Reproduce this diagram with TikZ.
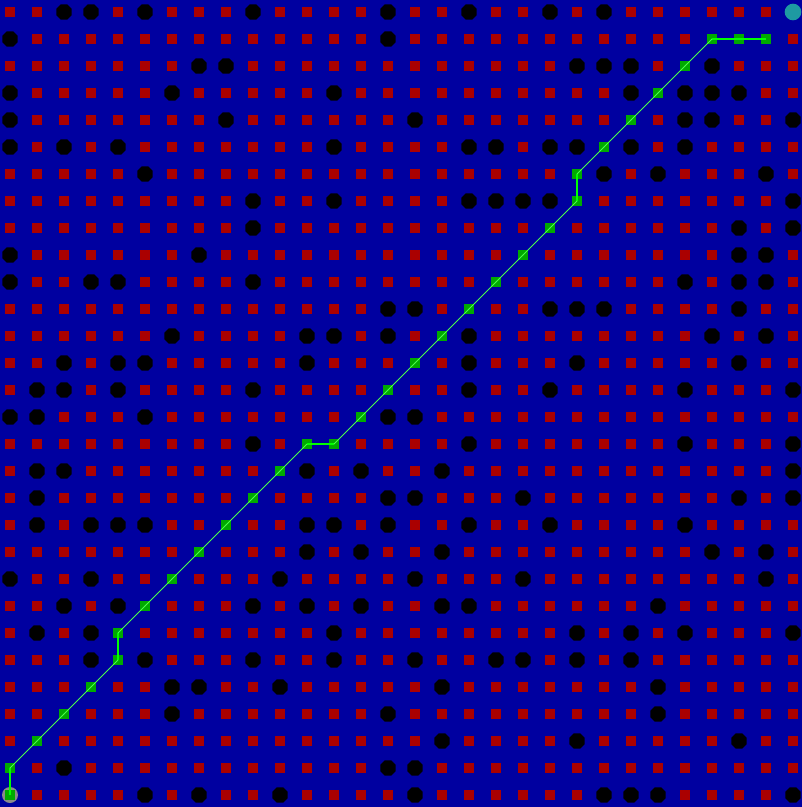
\documentclass[tikz,border=0pt]{standalone}
\usepackage{xcolor}
\usepackage{tikz}
\usetikzlibrary{shapes.geometric}
\definecolor{field}{HTML}{0000A0}
\definecolor{freered}{HTML}{AA0000}
\definecolor{routegreen}{HTML}{00AA00}
\definecolor{linegreen}{HTML}{00FF00}
\definecolor{goalteal}{HTML}{1E9AA2}
\definecolor{startgrey}{HTML}{8A8A8A}

% obstacle cells, col/row (row 0 on top)
\newcommand\wallcells{2/0,3/0,5/0,9/0,14/0,17/0,20/0,22/0,
  0/1,14/1,
  7/2,8/2,21/2,22/2,23/2,26/2,
  0/3,6/3,12/3,23/3,25/3,26/3,27/3,
  0/4,8/4,15/4,25/4,26/4,29/4,
  0/5,2/5,4/5,12/5,17/5,18/5,20/5,21/5,23/5,25/5,
  5/6,22/6,24/6,28/6,
  9/7,12/7,17/7,18/7,19/7,20/7,29/7,
  9/8,27/8,29/8,
  0/9,7/9,27/9,28/9,
  0/10,3/10,4/10,9/10,25/10,27/10,28/10,
  14/11,15/11,20/11,21/11,22/11,27/11,
  6/12,11/12,12/12,14/12,17/12,26/12,28/12,
  2/13,4/13,5/13,11/13,17/13,21/13,27/13,
  1/14,2/14,4/14,9/14,17/14,20/14,25/14,29/14,
  0/15,1/15,5/15,14/15,15/15,
  9/16,17/16,25/16,29/16,
  1/17,2/17,11/17,13/17,16/17,29/17,
  1/18,14/18,15/18,19/18,27/18,29/18,
  1/19,3/19,4/19,5/19,11/19,12/19,14/19,17/19,20/19,25/19,
  11/20,13/20,16/20,26/20,28/20,
  0/21,3/21,10/21,15/21,19/21,28/21,
  2/22,4/22,9/22,11/22,13/22,16/22,17/22,24/22,
  1/23,3/23,12/23,21/23,23/23,25/23,29/23,
  3/24,5/24,9/24,12/24,15/24,18/24,19/24,21/24,23/24,
  6/25,7/25,10/25,16/25,24/25,
  6/26,14/26,24/26,
  16/27,21/27,27/27,
  2/28,14/28,15/28,
  5/29,7/29,10/29,15/29,22/29,23/29,24/29,29/29}
% cells of the found route
\newcommand\routecells{0/29,0/28,1/27,2/26,3/25,4/24,4/23,5/22,6/21,7/20,
  8/19,9/18,10/17,11/16,12/16,13/15,14/14,15/13,16/12,17/11,18/10,19/9,
  20/8,21/7,21/6,22/5,23/4,24/3,25/2,26/1,27/1,28/1}
\foreach \c/\r in \wallcells {\expandafter\gdef\csname isw-\c-\r\endcsname{}}
\foreach \c/\r in \routecells {\expandafter\gdef\csname isr-\c-\r\endcsname{}}

\begin{document}
\begin{tikzpicture}[x=0.75pt,y=-0.75pt,
  free/.style={fill=freered,inner sep=0pt,minimum size=7.5pt},
  wall/.style={regular polygon,regular polygon sides=8,fill=black,inner sep=0pt,minimum size=12.5pt},
  routecell/.style={fill=routegreen,inner sep=0pt,minimum size=8pt},
  startmark/.style={circle,fill=startgrey,inner sep=0pt,minimum size=12pt},
  goalmark/.style={circle,fill=goalteal,inner sep=0pt,minimum size=12.5pt},
  straight/.style={linegreen,line width=2.2pt},
  diag/.style={linegreen!70!white,line width=0.6pt}]
\fill[field] (0,0) rectangle (802,807);
\node[startmark] (start) at (10,795) {};
\node[goalmark] (goal) at (793,12) {};
\foreach \c in {0,...,29}
  \foreach \r in {0,...,29} {
    \ifcsname isw-\c-\r\endcsname
      \node[wall] (g-\c-\r) at ({10+27*\c},{12+27*\r}) {};
    \else\ifcsname isr-\c-\r\endcsname
      \node[routecell] (g-\c-\r) at ({10+27*\c},{12+27*\r}) {};
    \else\ifnum\c\r=290\relax\else
      \node[free] (g-\c-\r) at ({10+27*\c},{12+27*\r}) {};
    \fi\fi\fi
  }
% route: straight steps thick, diagonal steps thin
\foreach \a/\b in {0-29/0-28,4-24/4-23,11-16/12-16,21-7/21-6,26-1/27-1,27-1/28-1}
  \draw[straight] (g-\a.center) -- (g-\b.center);
\foreach \a/\b in {0-28/1-27,1-27/2-26,2-26/3-25,3-25/4-24,
  4-23/5-22,5-22/6-21,6-21/7-20,7-20/8-19,8-19/9-18,9-18/10-17,10-17/11-16,
  12-16/13-15,13-15/14-14,14-14/15-13,15-13/16-12,16-12/17-11,17-11/18-10,18-10/19-9,19-9/20-8,20-8/21-7,
  21-6/22-5,22-5/23-4,23-4/24-3,24-3/25-2,25-2/26-1}
  \draw[diag] (g-\a.center) -- (g-\b.center);
\end{tikzpicture}
\end{document}
